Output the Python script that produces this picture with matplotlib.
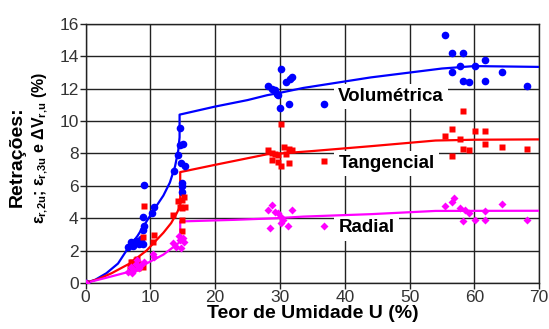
import matplotlib
matplotlib.use('Agg')
import matplotlib.pyplot as plt

plt.rcParams['font.family'] = ['Liberation Sans', 'DejaVu Sans']
plt.rcParams['mathtext.fontset'] = 'custom'
plt.rcParams['mathtext.rm'] = 'Liberation Sans:bold'
plt.rcParams['mathtext.it'] = 'Liberation Sans:bold'
plt.rcParams['mathtext.bf'] = 'Liberation Sans:bold'

# measured points (teor de umidade %, retracao %)
vol_x = [0, 6.5, 7.0, 7.3, 7.8, 8.2, 8.5, 8.9, 8.9, 9.0, 8.8, 9.0, 10.3, 10.6,
         13.7, 14.2, 14.5, 14.5, 15.1, 14.7, 15.4, 14.8, 14.8, 14.8,
         28.2, 28.7, 29.2, 29.5, 29.7, 30.2, 30.9, 31.5, 31.9, 30.0, 31.4, 36.8,
         55.4, 56.5, 58.2, 61.7, 57.8, 60.1, 56.6, 64.2, 58.3, 59.2, 61.7, 68.1]
vol_y = [0, 2.2, 2.5, 2.3, 2.6, 2.4, 2.7, 2.4, 3.3, 3.5, 4.1, 6.05, 4.3, 4.7,
         6.9, 7.9, 9.6, 8.5, 8.6, 7.4, 7.2, 6.2, 6.0, 5.6,
         12.2, 12.0, 11.9, 11.7, 11.6, 13.2, 12.4, 12.6, 12.7, 10.8, 11.05, 11.05,
         15.35, 14.2, 14.2, 13.8, 13.4, 13.4, 13.05, 13.05, 12.45, 12.4, 12.5, 12.15]

tan_x = [0, 6.8, 7.2, 7.5, 7.8, 8.1, 8.4, 8.8, 7.0, 8.0, 8.8, 9.0, 10.6, 10.4,
         13.5, 14.5, 14.8, 15.3, 14.2, 14.9, 15.2, 14.8, 14.8,
         28.2, 28.7, 29.2, 29.7, 30.6, 31.4, 31.8, 30.9, 28.7, 29.7, 31.4, 30.1, 30.2, 36.8,
         58.2, 56.5, 60.1, 61.7, 55.4, 57.8, 61.7, 64.2, 68.1, 58.3, 59.2, 56.6]
tan_y = [0, 1.0, 1.3, 1.1, 1.4, 0.9, 1.2, 1.0, 1.3, 1.5, 2.85, 4.75, 2.95, 2.5,
         4.2, 4.7, 4.6, 4.7, 5.06, 5.1, 5.3, 3.9, 3.2,
         8.2, 8.0, 7.95, 7.9, 8.4, 8.3, 8.2, 7.95, 7.6, 7.5, 7.4, 7.2, 9.8, 7.55,
         10.6, 9.5, 9.4, 9.4, 9.07, 8.9, 8.6, 8.4, 8.3, 8.3, 8.2, 7.85]

rad_x = [0, 6.6, 7.0, 7.4, 7.8, 8.2, 8.6, 9.0, 7.2, 8.0, 10.4, 10.6,
         13.5, 14.5, 15.0, 14.0, 14.7, 15.2, 14.4,
         28.7, 28.2, 29.2, 29.7, 30.1, 31.8, 30.5, 28.4, 30.1, 31.3, 36.8,
         56.8, 56.5, 55.4, 64.2, 57.8, 58.5, 59.2, 61.7, 58.3, 60.1, 61.7, 68.1]
rad_y = [0, 0.7, 1.0, 0.8, 1.2, 0.9, 1.1, 1.3, 0.6, 1.4, 1.8, 1.6,
         2.45, 2.65, 2.75, 2.25, 2.15, 2.5, 2.9,
         4.8, 4.5, 4.4, 4.3, 4.1, 4.5, 3.9, 3.4, 3.7, 3.5, 3.5,
         5.27, 5.0, 4.77, 4.9, 4.6, 4.5, 4.35, 4.46, 3.83, 3.9, 3.9, 3.9]

# fitted curves
vol_fit_x = [0, 1.5, 3.2, 5.0, 6.3, 8.0, 9.4, 10.5, 12.0, 13.0, 13.8, 14.3, 14.5, 14.5,
             20, 25, 28, 30, 33.6, 40, 44, 50, 55, 60, 70]
vol_fit_y = [0, 0.2, 0.6, 1.2, 2.0, 2.9, 3.8, 4.5, 5.4, 6.2, 7.2, 8.2, 9.0, 10.4,
             10.9, 11.3, 11.6, 11.75, 12.05, 12.45, 12.7, 13.0, 13.25, 13.4, 13.35]
tan_fit_x = [0, 2, 4, 6.8, 9.4, 12, 13.2, 14.05, 14.6, 14.6, 20, 28, 30, 35, 44, 54, 60, 70]
tan_fit_y = [0, 0.25, 0.6, 1.2, 2.0, 3.1, 3.7, 4.3, 4.75, 6.85, 7.3, 7.95, 8.0, 8.15, 8.45, 8.8, 8.85, 8.87]
rad_fit_x = [0, 3, 6.8, 9.4, 12, 14.3, 14.6, 14.6, 23, 29.5, 33.6, 44, 54, 70]
rad_fit_y = [0, 0.3, 0.7, 1.2, 1.75, 2.45, 2.6, 3.8, 3.9, 4.0, 4.1, 4.25, 4.45, 4.46]

fig = plt.figure(figsize=(5.49, 3.29), dpi=100)
ax = fig.add_axes([0.156, 0.140, 0.826, 0.787])

ax.plot(vol_fit_x, vol_fit_y, color='#0000ff', lw=1.6, zorder=3)
ax.plot(tan_fit_x, tan_fit_y, color='#ff0000', lw=1.6, zorder=3)
ax.plot(rad_fit_x, rad_fit_y, color='#ff00ff', lw=1.6, zorder=3)

ax.plot(vol_x, vol_y, 'o', color='#0000ff', ms=5.5, mec='none', zorder=4)
ax.plot(tan_x, tan_y, 's', color='#ff0000', ms=5, mec='none', zorder=4)
ax.plot(rad_x, rad_y, 'D', color='#ff00ff', ms=4.5, mec='none', zorder=4)

box = dict(facecolor='white', edgecolor='none', pad=3)
ax.text(39, 11.5, 'Volumétrica', fontsize=13.5, fontweight='bold', va='center', bbox=box, zorder=2)
ax.text(39, 7.4, 'Tangencial', fontsize=13.5, fontweight='bold', va='center', bbox=box, zorder=2)
ax.text(39, 3.4, 'Radial', fontsize=13.5, fontweight='bold', va='center', bbox=box, zorder=2)

ax.set_xlim(0, 70)
ax.set_ylim(0, 16)
ax.set_xticks(range(0, 71, 10))
ax.set_yticks(range(0, 17, 2))
ax.grid(True, color='#222222', lw=1.0, zorder=0)
ax.set_axisbelow(True)
for s in ax.spines.values():
    s.set_color('#222222')
    s.set_linewidth(1.0)
ax.tick_params(direction='out', length=4, width=1.0, color='#222222',
               labelsize=12.5, labelcolor='#333333', pad=1)

ax.set_xlabel('Teor de Umidade U (%)', fontsize=14, fontweight='bold', labelpad=0)
fig.text(17 / 549, 1 - 157 / 329, 'Retrações:', rotation=90, fontsize=14,
         fontweight='bold', ha='center', va='center')
fig.text(40 / 549, 1 - 148 / 329,
         r'$\varepsilon_{r{,}2u}$; $\varepsilon_{r{,}3u}$ e $\Delta V_{r{,}u}$ (%)',
         rotation=90, fontsize=11.5, fontweight='bold', ha='center', va='center')

fig.savefig('out.png', dpi=100)
